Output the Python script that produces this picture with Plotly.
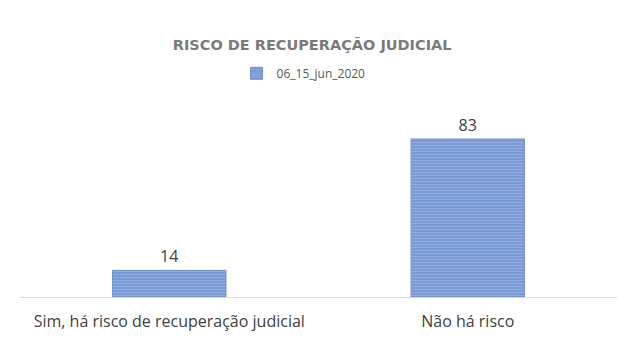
import plotly.graph_objects as go

categories = ["Sim, há risco de recuperação judicial", "Não há risco"]
values = [14, 83]
series_name = "06_15_jun_2020"
title_text = "RISCO DE RECUPERAÇÃO JUDICIAL"

fig = go.Figure()
fig.add_trace(go.Bar(
    x=categories, y=values, name=series_name,
    text=values, textposition="outside",
    textfont=dict(family="Open Sans", size=16, color="#404040"),
    cliponaxis=False,
    marker=dict(
        color="#7a9ad6",
        line=dict(color="#6f8fd0", width=1),
        pattern=dict(shape="-", fgcolor="#adc2ea", bgcolor="#7a9ad6", size=3, solidity=0.35),
    ),
))

fig.update_layout(
    width=637, height=349,
    margin=dict(l=20, r=20, t=99, b=52),
    paper_bgcolor="white", plot_bgcolor="white",
    bargap=0.62,
    showlegend=True,
    title=dict(text="<b>" + title_text + "</b>", x=0.49, xanchor="center", y=0.87, yanchor="middle",
               font=dict(family="DejaVu Sans", size=14.5, color="#7a7a7a")),
    legend=dict(orientation="h", x=0.475, xanchor="center", y=0.79, yanchor="middle",
                yref="container", itemwidth=30, font=dict(family="Open Sans", size=12, color="#595959")),
    xaxis=dict(showline=True, linecolor="#d9d9d9", linewidth=1, ticks="", ticklabelstandoff=10,
               tickfont=dict(family="Open Sans", size=16, color="#404040")),
    yaxis=dict(range=[0, 104], visible=False, showgrid=False),
)
fig.write_html("out.html")
